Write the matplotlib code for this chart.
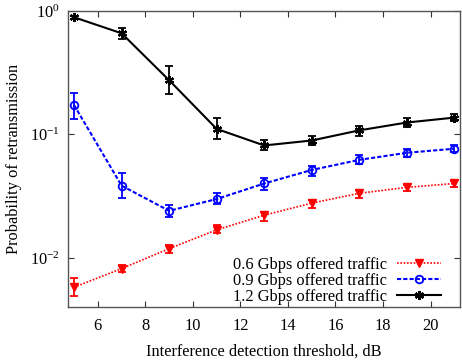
import matplotlib
matplotlib.use("Agg")
import matplotlib.pyplot as plt
from matplotlib.ticker import FixedLocator, NullLocator

plt.rcParams["font.family"] = ["Liberation Serif", "DejaVu Serif"]
plt.rcParams["mathtext.fontset"] = "custom"
plt.rcParams["mathtext.rm"] = "Liberation Serif"
plt.rcParams["mathtext.it"] = "Liberation Serif:italic"
plt.rcParams["axes.unicode_minus"] = False

# threshold (dB)
thresholds = [5, 7, 9, 11, 13, 15, 17, 19, 21]

# 0.6 Gbps
p06 = [0.0058, 0.0082, 0.0119, 0.0169, 0.0222, 0.0278, 0.0334, 0.0373, 0.0401]
p06_lo = [0.0049, 0.0077, 0.0109, 0.0159, 0.0200, 0.0256, 0.0306, 0.0350, 0.0377]
p06_hi = [0.0069, 0.0088, 0.0127, 0.0186, 0.0236, 0.0294, 0.0356, 0.0392, 0.0420]

# 0.9 Gbps
p09 = [0.173, 0.0385, 0.0241, 0.0300, 0.0401, 0.0516, 0.0623, 0.0711, 0.0767]
p09_lo = [0.134, 0.0305, 0.0216, 0.0276, 0.0356, 0.0465, 0.0573, 0.0654, 0.0718]
p09_hi = [0.217, 0.0484, 0.0269, 0.0336, 0.0441, 0.0560, 0.0676, 0.0760, 0.0815]

# 1.2 Gbps
p12 = [0.89, 0.66, 0.275, 0.111, 0.0815, 0.0894, 0.108, 0.125, 0.137]
p12_lo = [0.865, 0.59, 0.211, 0.0917, 0.0743, 0.0825, 0.098, 0.115, 0.129]
p12_hi = [0.915, 0.735, 0.362, 0.137, 0.0906, 0.098, 0.118, 0.137, 0.146]

labels = ["0.6 Gbps offered traffic", "0.9 Gbps offered traffic", "1.2 Gbps offered traffic"]
colors = ["#ff0000", "#0000ff", "#000000"]

fig = plt.figure(figsize=(4.62, 3.61), dpi=100)
ax = fig.add_axes([0.148, 0.150, 0.8466, 0.8195])

series = [(p06, p06_lo, p06_hi), (p09, p09_lo, p09_hi), (p12, p12_lo, p12_hi)]
styles = [
    dict(linestyle=(0, (1, 1)), linewidth=1.2, marker="v", markersize=6,
         markerfacecolor=colors[0], markeredgecolor=colors[0]),
    dict(linestyle=(0, (2, 1)), linewidth=1.5, marker="o", markersize=5.5,
         markerfacecolor="none", markeredgecolor=colors[1], markeredgewidth=1.3),
    dict(linestyle="-", linewidth=1.5, marker=(6, 2, 0), markersize=6.5,
         markeredgecolor=colors[2], markeredgewidth=1.6),
]

for (y, lo, hi), col, st, lab in zip(series, colors, styles, labels):
    err = [[v - l for v, l in zip(y, lo)], [h - v for v, h in zip(y, hi)]]
    ax.errorbar(thresholds, y, yerr=err, fmt="none", ecolor=col,
                elinewidth=1.3, capsize=3.2, capthick=1.3)
    ax.plot(thresholds, y, color=col, label=lab, **st)

ax.set_yscale("log")
ax.set_xlim(4.76, 21.22)
ax.set_ylim(0.00402, 1.0)
ax.xaxis.set_major_locator(FixedLocator([6, 8, 10, 12, 14, 16, 18, 20]))
ax.yaxis.set_major_locator(FixedLocator([0.01, 0.1, 1.0]))
ax.yaxis.set_minor_locator(NullLocator())
ax.set_yticklabels([r"$10^{-2}$", r"$10^{-1}$", r"$10^{0}$"])

ax.tick_params(axis="both", which="major", direction="in", length=4, width=0.8,
               top=True, right=True, labelsize=11.8, colors="#333333",
               labelcolor="black", pad=6)
ax.tick_params(axis="x", pad=8)
for s in ax.spines.values():
    s.set_color("#555555")
    s.set_linewidth(1.0)

ax.set_xlabel("Interference detection threshold, dB", fontsize=11.8, labelpad=7)
ax.set_ylabel("Probability of retransmission", fontsize=11.8, labelpad=5.5)

ax.legend(loc="lower right", frameon=False, fontsize=11.8, markerfirst=False,
          numpoints=1, handlelength=2.7, handletextpad=0.6, labelspacing=0.0,
          borderaxespad=0.0, borderpad=0.0, bbox_to_anchor=(0.953, 0.006))

fig.savefig("out.png", dpi=100)
